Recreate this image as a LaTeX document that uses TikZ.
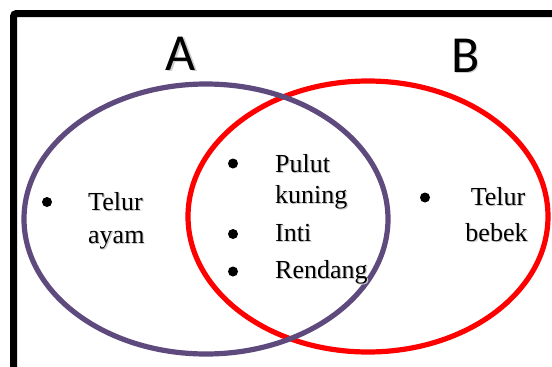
\documentclass[tikz,border=0pt]{standalone}
\usepackage{fontspec}
\setmainfont{Liberation Serif}
\newfontfamily\headfont{Carlito}
\definecolor{setpurple}{RGB}{94,74,125}
\definecolor{setred}{RGB}{255,0,0}
\definecolor{shadowgray}{RGB}{170,170,170}
% text with a soft drop shadow
\newcommand{\shadowed}[1]{\rlap{\raisebox{-1.2pt}{\kern1.2pt\textcolor{shadowgray!60}{#1}}}#1}
\begin{document}
\begin{tikzpicture}[x=1pt,y=-1pt,
  setline/.style={line width=5.2pt},
  item/.style={inner sep=0pt,font=\fontsize{26}{30}\selectfont},
  setlabel/.style={inner sep=0pt,anchor=base,font=\headfont\fontsize{52}{60}\selectfont},
  dot/.style={circle,fill=black,inner sep=0pt,minimum size=10pt}]
\useasboundingbox (0,0) rectangle (552,367);
\clip (0,0) rectangle (552,367);
\fill[white] (0,0) rectangle (552,367);

% frame
\draw[line width=7pt,rounded corners=3pt] (13.5,420) -- (13.5,13.5) -- (620,13.5);

% sets
\draw[setline,setred] (368,216.5) ellipse [x radius=180,y radius=135.5];
\draw[setline,setpurple] (206,219) ellipse [x radius=182,y radius=135];

% set names
\node[setlabel] (labA) at (181,70) {\shadowed{A}};
\node[setlabel] (labB) at (465.5,72) {\shadowed{B}};

% only in A
\node[dot] (dA) at (47,202) {};
\node[item,anchor=base west] (telurA) at (88,210) {\shadowed{Telur}};
\node[item,anchor=base west] (ayam) at (88,243) {\shadowed{ayam}};

% in both
\node[dot] (d1) at (233,163.5) {};
\node[item,anchor=base west] (pulut) at (275,172) {\shadowed{Pulut}};
\node[item,anchor=base west] (kuning) at (275,203) {\shadowed{kuning}};
\node[dot] (d2) at (233,234) {};
\node[item,anchor=base west] (inti) at (275,241) {\shadowed{Inti}};
\node[dot] (d3) at (233,271.5) {};
\node[item,anchor=base west] (rendang) at (275,278) {\shadowed{Rendang}};

% only in B
\node[dot] (dB) at (425,197.5) {};
\node[item,anchor=base] (telurB) at (498,205.5) {\shadowed{Telur}};
\node[item,anchor=base] (bebek) at (496.5,241) {\shadowed{bebek}};
\end{tikzpicture}
\end{document}
